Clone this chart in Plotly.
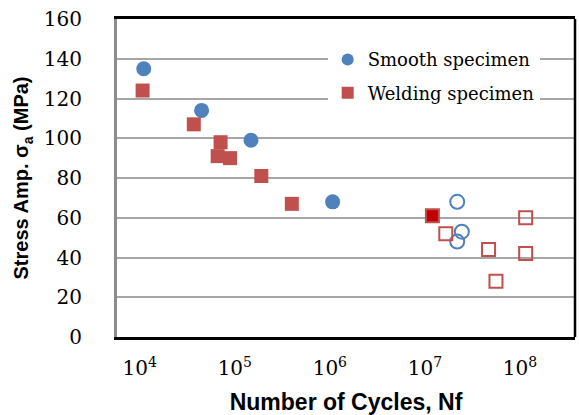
import plotly.graph_objects as go

# Fatigue test data: cycles to failure vs stress amplitude
smooth_n = [11000, 44700, 148000, 1070000]
smooth_s = [135, 114, 99, 68]

weld_n = [10700, 37000, 70800, 66000, 89000, 190000, 398000]
weld_s = [124, 107, 98, 91, 90, 81, 67]

weld_dark_n = [12000000]
weld_dark_s = [61]

smooth_runout_n = [21900000, 24500000, 21900000]
smooth_runout_s = [68, 53, 48]

weld_runout_n = [16600000, 46800000, 56000000, 115000000, 115000000]
weld_runout_s = [52, 44, 28, 60, 42]

xtick_vals = [1e4, 1e5, 1e6, 1e7, 1e8]
xtick_text = ["10<sup>4</sup>", "10<sup>5</sup>", "10<sup>6</sup>", "10<sup>7</sup>", "10<sup>8</sup>"]

blue = "#4f81bd"
red = "#c0504d"
serif = "DejaVu Serif"

fig = go.Figure()
fig.add_trace(go.Scatter(x=smooth_n, y=smooth_s, mode="markers", name="Smooth specimen",
                         legendgroup="a",
                         marker=dict(symbol="circle", size=15, color=blue)))
fig.add_trace(go.Scatter(x=weld_n, y=weld_s, mode="markers", name="Welding specimen",
                         legendgroup="b",
                         marker=dict(symbol="square", size=14, color=red)))
fig.add_trace(go.Scatter(x=weld_dark_n, y=weld_dark_s, mode="markers", showlegend=False,
                         marker=dict(symbol="square", size=13, color="#c00000",
                                     line=dict(color=red, width=2))))
fig.add_trace(go.Scatter(x=smooth_runout_n, y=smooth_runout_s, mode="markers", showlegend=False,
                         marker=dict(symbol="circle-open", size=14, color=blue, line=dict(width=2))))
fig.add_trace(go.Scatter(x=weld_runout_n, y=weld_runout_s, mode="markers", showlegend=False,
                         marker=dict(symbol="square-open", size=13, color=red, line=dict(width=2))))

fig.update_layout(
    width=579, height=415,
    margin=dict(l=117, r=4, t=19, b=78),
    paper_bgcolor="white", plot_bgcolor="white",
    showlegend=True,
    legend=dict(x=0.46, y=0.93, xanchor="left", yanchor="top", bgcolor="white",
                font=dict(family=serif, size=18, color="black"),
                itemwidth=30, tracegroupgap=7, itemsizing="constant"),
    xaxis=dict(type="log", range=[3.76, 8.58], tickvals=xtick_vals, ticktext=xtick_text,
               showgrid=False, zeroline=False, ticks="", automargin=False,
               showline=True, mirror=True, linecolor="black", linewidth=3,
               tickfont=dict(family=serif, size=20, color="black"),
               ticklabelstandoff=11,
               title=dict(text="<b>Number of Cycles, Nf</b>", standoff=15,
                          font=dict(family="Liberation Sans", size=23, color="black"))),
    yaxis=dict(range=[0, 160], dtick=20, showgrid=True, gridcolor="#a6a6a6", gridwidth=1.5,
               zeroline=False, showline=True, linecolor="#8c8c8c", linewidth=3, ticks="",
               automargin=False,
               tickfont=dict(family=serif, size=20, color="black"),
               ticklabelstandoff=28,
               title=dict(text="<b>Stress Amp. σ<sub>a</sub> (MPa)</b>", standoff=10,
                          font=dict(family="Liberation Sans", size=20, color="black"))),
)

# black right edge of the frame
fig.add_shape(type="line", xref="paper", yref="paper", x0=1, x1=1, y0=0, y1=1,
              line=dict(color="black", width=2.5))

# drop the browser's default page margin so the figure sits at the window corner
fig.write_html("out.html", config={"displayModeBar": False},
               post_script="document.body.style.margin='0px';")
